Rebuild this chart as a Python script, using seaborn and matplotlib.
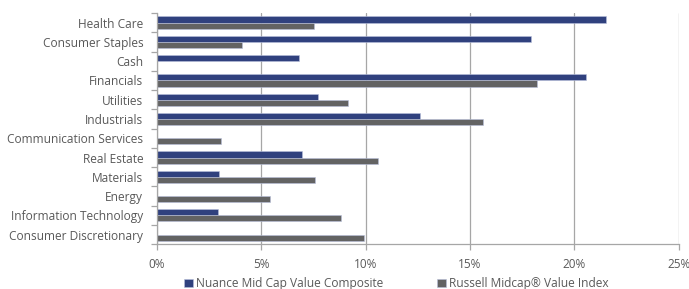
import pandas as pd
import seaborn as sns
import matplotlib.pyplot as plt
from matplotlib.ticker import PercentFormatter

# Sector weights (%)
sectors = ["Health Care", "Consumer Staples", "Cash", "Financials", "Utilities",
           "Industrials", "Communication Services", "Real Estate", "Materials",
           "Energy", "Information Technology", "Consumer Discretionary"]
nuance = [21.5, 17.9, 6.8, 20.55, 7.7, 12.6, 0.0, 6.95, 2.97, 0.0, 2.9, 0.0]
russell = [7.5, 4.07, 0.0, 18.2, 9.15, 15.6, 3.07, 10.6, 7.57, 5.43, 8.8, 9.9]
series_names = ["Nuance Mid Cap Value Composite", "Russell Midcap® Value Index"]
xticks = [0, 5, 10, 15, 20, 25]

df = pd.DataFrame({"Sector": sectors * 2,
                   "Weight": nuance + russell,
                   "Series": [series_names[0]] * len(sectors) + [series_names[1]] * len(sectors)})

sns.set_theme(style="white")
plt.rcParams["font.family"] = ["Open Sans", "DejaVu Sans"]
txt_color = "#595959"

fig, ax = plt.subplots(figsize=(6.89, 2.89), dpi=100)
sns.barplot(data=df, y="Sector", x="Weight", hue="Series", orient="h",
            order=sectors, hue_order=series_names,
            palette=["#233A8B", "#636363"], width=0.64, errorbar=None,
            edgecolor="#b8c0dc", linewidth=0.4, ax=ax)

ax.set_xlim(0, 25)
ax.set_xticks(xticks)
ax.xaxis.set_major_formatter(PercentFormatter(decimals=0))
ax.grid(axis="x", color="#a6a6a6", linewidth=0.9)
ax.set_axisbelow(True)
ax.set_xlabel("")
ax.set_ylabel("")
for s in ["top", "right"]:
    ax.spines[s].set_visible(False)
for s in ["left", "bottom"]:
    ax.spines[s].set_color("#a6a6a6")
    ax.spines[s].set_linewidth(0.9)
ax.set_yticks([i - 0.5 for i in range(len(sectors) + 1)], minor=True)
ax.tick_params(axis="y", which="major", length=0, labelsize=8.6, labelcolor=txt_color, pad=10)
ax.tick_params(axis="y", which="minor", length=4, color="#a6a6a6", width=0.9, direction="out", left=True)
ax.tick_params(axis="x", length=4, color="#a6a6a6", width=0.9, direction="out", bottom=True,
               labelsize=8.5, labelcolor=txt_color, pad=6)

ax.legend(loc="center", bbox_to_anchor=(0.459, -0.172), ncol=2, frameon=False,
          fontsize=8.6, labelcolor=txt_color, handlelength=0.7, handleheight=0.7,
          handletextpad=0.3, columnspacing=4.5)

plt.subplots_adjust(left=0.228, right=0.985, top=0.955, bottom=0.155)
plt.savefig("out.png", dpi=100)
